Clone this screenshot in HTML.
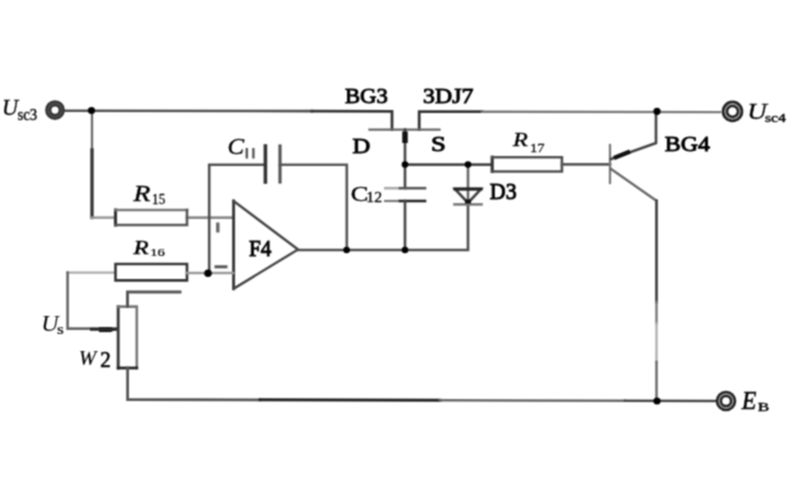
<!DOCTYPE html>
<html><head><meta charset="utf-8">
<style>
html,body{margin:0;padding:0;background:#fff;}
#wrap{width:800px;height:500px;}
svg{display:block;}
text{font-family:"Liberation Serif",serif;}
</style></head>
<body>
<div id="wrap">
<svg width="800" height="500" viewBox="0 0 800 500">
<defs><filter id="soft" x="0" y="0" width="800" height="500" filterUnits="userSpaceOnUse" color-interpolation-filters="sRGB"><feConvolveMatrix order="3" kernelMatrix="1 2 1 2 4 2 1 2 1" divisor="16" edgeMode="duplicate" preserveAlpha="false"/></filter></defs>
<g filter="url(#soft)">
<rect x="0" y="0" width="800" height="500" fill="#fff"/>
<g fill="none" stroke="#444" stroke-width="2.61" stroke-linecap="square">
  <!-- top wire -->
  <path d="M64 110.7 L312 111.1" stroke="#4d4d4d"/>
  <path d="M312 111.1 L392 111.3 V129.5" stroke="#333" stroke-width="2.78"/>
  <path d="M419.2 129.5 V111.6 L482 111.7" stroke="#333" stroke-width="2.78"/>
  <path d="M482 111.7 L720 112.1" stroke="#777" stroke-width="2.44"/>
  <!-- JFET channel -->
  <path d="M369.5 129.7 H439.5" stroke="#666" stroke-width="2.26"/>
  <!-- R15 branch -->
  <path d="M92 111 V150" stroke="#666" stroke-width="2.26"/>
  <path d="M92 150 V217.5" stroke="#333" stroke-width="3.31"/>
  <path d="M92 217.6 H114" stroke="#999"/>
  <path d="M187 217.6 H233" stroke="#888"/>
  <path d="M115.5 210 V225" stroke="#333" stroke-width="3.13"/>
  <path d="M115.5 210 H187" stroke="#777"/>
  <path d="M187 210 V225 H115.5" stroke="#555"/>
  <!-- C11 loop -->
  <path d="M209.2 273 V164.8 H265" stroke="#4d4d4d"/>
  <path d="M265.4 146 V182" stroke="#333" stroke-width="3.6"/>
  <path d="M280 146 V182" stroke="#555" stroke-width="3.2"/>
  <path d="M280 164.7 H346.8 V250" stroke="#555"/>
  <!-- op amp -->
  <path d="M233.6 201 V288.7" stroke="#3a3a3a" stroke-width="2.96"/>
  <path d="M233.6 201 L298 249.5 L233.6 288.7" stroke="#444" stroke-width="2.44" stroke-linejoin="miter"/>
  <path d="M298 250 H468 V204" stroke="#4d4d4d"/>
  <!-- R16 -->
  <path d="M67.5 272.6 H115" stroke="#aaa" stroke-width="2.26"/>
  <path d="M115.5 264 H187 V280.4 H115.5 Z" stroke="#333"/>
  <path d="M187 273 H233" stroke="#999"/>
  <!-- Us wire -->
  <path d="M67.6 272.6 V328.6 H117" stroke="#666"/>
  <!-- pot -->
  <path d="M118.2 306.5 V368" stroke="#3a3a3a" stroke-width="2.96"/>
  <path d="M118.2 306.6 H136.8 V368" stroke="#777"/>
  <path d="M118.2 368 H136.8" stroke="#222" stroke-width="2.78"/>
  <path d="M127.5 306.5 V291.9 H180" stroke="#555" stroke-width="2.96"/>
  <path d="M127.6 368 V399.5 L260 399.8" stroke="#555" stroke-width="2.78"/>
  <path d="M260 399.8 L440 400.3" stroke="#222" stroke-width="2.96"/>
  <path d="M440 400.3 L625 400.8" stroke="#666" stroke-width="2.44"/>
  <path d="M625 400.8 L715 401" stroke="#444" stroke-width="2.61"/>
  <!-- gate / C12 -->
  <path d="M405 129.5 V188" stroke="#444"/>
  <path d="M384 188.2 H400" stroke="#aaa" stroke-width="2.61" stroke-linecap="butt"/>
  <path d="M400 188.2 H425" stroke="#555" stroke-width="2.61"/>
  <path d="M384 201 H400" stroke="#777" stroke-width="2.26" stroke-linecap="butt"/>
  <path d="M400 201 H425" stroke="#222" stroke-width="2.61"/>
  <path d="M405 201 V250" stroke="#444"/>
  <path d="M405 164.6 H491" stroke="#444"/>
  <!-- diode -->
  <path d="M468 164.6 V204" stroke="#666"/>
  <path d="M455 189 H481 L468 203 Z" stroke="#444" stroke-linejoin="miter"/>
  <path d="M455 189 H481" stroke="#222" stroke-width="3.13"/>
  <path d="M454.5 204.4 H481.5" stroke="#777"/>
  <!-- R17 -->
  <path d="M492.2 157.2 V171.5" stroke="#333" stroke-width="3.13"/>
  <path d="M492.2 157.2 H561.9 V171.5 H492.2" stroke="#4d4d4d"/>
  <path d="M562 164.4 H610" stroke="#555"/>
  <!-- BJT -->
  <path d="M610 145 V183" stroke="#777" stroke-width="2.26"/>
  <path d="M611 159 L656 143 V112" stroke="#444"/>
  <path d="M611 169 L656.5 200.8" stroke="#666" stroke-width="2.44"/>
  <path d="M656.5 200.8 V302" stroke="#444" stroke-width="2.78"/>
  <path d="M656.5 302 V323" stroke="#777" stroke-width="2.44"/>
  <path d="M656.5 323 V362" stroke="#aaa" stroke-width="2.26"/>
  <path d="M656.5 362 V401" stroke="#666" stroke-width="2.44"/>
</g>
<!-- thick bits -->
<g stroke="#111" fill="none" stroke-linecap="butt">
  <path d="M405 131.5 V143" stroke-width="5.5"/>
  <path d="M614 158 L630 151.5" stroke-width="4.5"/>
  <path d="M99 329.6 H111" stroke-width="5"/>
  <path d="M111 327 L116 329.5 L111 332 Z" fill="#111" stroke="none"/>
  <path d="M90 329.3 H117" stroke="#2a2a2a" stroke-width="3"/>
  <path d="M214.5 266.8 H227.5" stroke="#555" stroke-width="3"/>
  <path d="M217.8 222.5 V232.5" stroke="#666" stroke-width="3.4"/>
  <path d="M465 201.5 H471" stroke-width="4"/>
</g>
<path d="M246.8 148 V158.5 M253.4 148 V158.5" stroke="#555" stroke-width="2.4" fill="none"/>
<!-- junction dots -->
<g fill="#000">
  <circle cx="91.5" cy="110.5" r="3.6"/>
  <circle cx="208" cy="273.2" r="3.8"/>
  <circle cx="346.6" cy="250" r="3.3"/>
  <circle cx="405" cy="250" r="3.3"/>
  <circle cx="405" cy="164.6" r="3.3"/>
  <circle cx="468" cy="164.6" r="3.3"/>
  <circle cx="657" cy="111.3" r="3.6"/>
  <circle cx="657" cy="401" r="3.6"/>
</g>
<!-- terminals -->
<g fill="none">
  <circle cx="55" cy="110.1" r="8.5" stroke="#333" stroke-width="2.8"/>
  <circle cx="55" cy="110.1" r="5" stroke="#333" stroke-width="2.8"/>
  <circle cx="55" cy="110.1" r="6.8" stroke="#4a4a4a" stroke-width="2"/>
  <circle cx="732.5" cy="111.4" r="9.3" stroke="#222" stroke-width="3"/>
  <circle cx="732.5" cy="111.4" r="5.6" stroke="#222" stroke-width="2.8"/>
  <circle cx="732.5" cy="111.4" r="7.4" stroke="#999" stroke-width="1.4"/>
  <circle cx="726" cy="401" r="8.8" stroke="#222" stroke-width="3"/>
  <circle cx="726" cy="401" r="5.2" stroke="#222" stroke-width="2.8"/>
  <circle cx="726" cy="401" r="7" stroke="#999" stroke-width="1.4"/>
</g>

<g fill="#000" stroke="#000" stroke-width="2">
<text x="50" y="150" font-size="100" stroke-width="1.5" font-style="italic" transform="matrix(0.2217 0 0 0.2227 -9.18 81.87)">U</text>
<text x="50" y="150" font-size="100" stroke-width="2.5" transform="matrix(0.1488 0 0 0.1591 9.96 95.68)">sc3</text>
<text x="50" y="150" font-size="100" stroke-width="4.5" transform="matrix(0.2269 0 0 0.2172 333.57 70.14)">BG3</text>
<text x="50" y="150" font-size="100" stroke-width="4.5" transform="matrix(0.2379 0 0 0.2152 411.21 70.31)">3DJ7</text>
<text x="50" y="150" font-size="100" stroke-width="4.5" transform="matrix(0.2462 0 0 0.2031 340.15 122.24)">D</text>
<text x="50" y="150" font-size="100" stroke-width="4.5" transform="matrix(0.2667 0 0 0.2090 417.70 119.64)">S</text>
<text x="50" y="150" font-size="100" stroke-width="1.5" font-style="italic" transform="matrix(0.2484 0 0 0.2227 215.09 120.67)">C</text>
<text x="50" y="150" font-size="100" stroke-width="2" font-style="italic" transform="matrix(0.2763 0 0 0.2277 119.79 166.95)">R</text>
<text x="50" y="150" font-size="100" stroke-width="2" transform="matrix(0.1322 0 0 0.1418 145.50 182.49)">15</text>
<text x="50" y="150" font-size="100" stroke-width="2.5" font-style="italic" transform="matrix(0.2475 0 0 0.1969 121.23 224.66)">R</text>
<text x="50" y="150" font-size="100" stroke-width="2.5" transform="matrix(0.1455 0 0 0.0971 143.02 241.45)">16</text>
<text x="50" y="150" font-size="100" stroke-width="4.5" transform="matrix(0.2109 0 0 0.2246 238.42 222.81)">F4</text>
<text x="50" y="150" font-size="100" stroke-width="2" transform="matrix(0.2649 0 0 0.2179 337.49 167.98)">C</text>
<text x="50" y="150" font-size="100" stroke-width="2" transform="matrix(0.1576 0 0 0.1485 358.50 180.13)">12</text>
<text x="50" y="150" font-size="100" stroke-width="4.5" transform="matrix(0.2191 0 0 0.2212 478.89 165.70)">D3</text>
<text x="50" y="150" font-size="100" stroke-width="2" font-style="italic" transform="matrix(0.2424 0 0 0.1938 500.98 117.12)">R</text>
<text x="50" y="150" font-size="100" stroke-width="2" transform="matrix(0.1455 0 0 0.1303 522.82 132.55)">17</text>
<text x="50" y="150" font-size="100" stroke-width="4.5" transform="matrix(0.2386 0 0 0.2179 652.85 118.68)">BG4</text>
<text x="50" y="150" font-size="100" stroke-width="1.5" font-style="italic" transform="matrix(0.2688 0 0 0.2273 733.74 85.28)">U</text>
<text x="50" y="150" font-size="100" stroke-width="3" transform="matrix(0.1566 0 0 0.1333 757.14 101.67)">sc4</text>
<text x="50" y="150" font-size="100" stroke-width="2" font-style="italic" transform="matrix(0.2400 0 0 0.2538 729.64 370.72)">E</text>
<text x="50" y="150" font-size="100" stroke-width="3" transform="matrix(0.1729 0 0 0.1338 749.04 391.12)">B</text>
<text x="50" y="150" font-size="100" stroke-width="0.1" font-style="italic" transform="matrix(0.2391 0 0 0.2242 29.39 297.54)">U</text>
<text x="50" y="150" font-size="100" stroke-width="1.5" transform="matrix(0.1742 0 0 0.1437 48.19 312.09)">s</text>
<text x="50" y="150" font-size="100" stroke-width="0.8" font-style="italic" transform="matrix(0.2107 0 0 0.2104 68.29 333.61)">W</text>
<text x="50" y="150" font-size="100" stroke-width="3" transform="matrix(0.2100 0 0 0.2308 89.66 332.78)">2</text>
</g>
</g>
</svg>
</div>
</body></html>
